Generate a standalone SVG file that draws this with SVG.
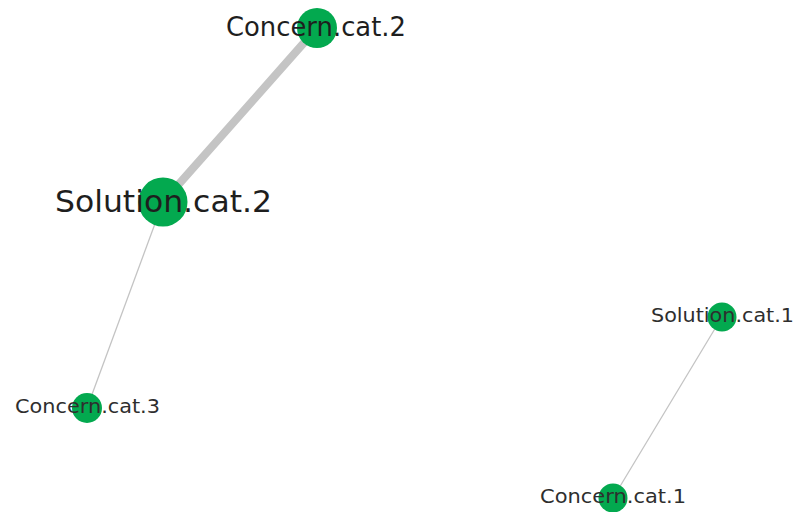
<svg xmlns="http://www.w3.org/2000/svg" width="794" height="512" viewBox="0 0 794 512">
<style>
.node circle{fill:#03a94f}
.edge{stroke:#c4c4c4;stroke-linecap:round;fill:none}
text{font-family:"DejaVu Sans",Verdana,sans-serif;fill:#1e1e1e}
.small{fill:#2e2e2e}
</style>
<rect width="794" height="512" fill="#ffffff"/>
<g id="edges">
<line class="edge" x1="317" y1="28" x2="163" y2="202" stroke-width="8"/>
<line class="edge" x1="163" y1="202" x2="87" y2="408" stroke-width="1.3"/>
<line class="edge" x1="722" y1="317" x2="613" y2="498" stroke-width="1.3"/>
</g>
<g id="n-concern2" class="node">
<circle cx="317" cy="28" r="20"/>
<text x="226" y="36" font-size="27" textLength="180" lengthAdjust="spacingAndGlyphs">Concern.cat.2</text>
</g>
<g id="n-solution2" class="node">
<circle cx="163" cy="202" r="24.5"/>
<text x="55" y="212" font-size="31" textLength="217" lengthAdjust="spacingAndGlyphs">Solution.cat.2</text>
</g>
<g id="n-concern3" class="node">
<circle cx="87" cy="408" r="15"/>
<text class="small" x="15" y="413" font-size="20" textLength="145" lengthAdjust="spacingAndGlyphs">Concern.cat.3</text>
</g>
<g id="n-solution1" class="node">
<circle cx="722" cy="317" r="14.5"/>
<text class="small" x="651" y="322" font-size="20" textLength="143" lengthAdjust="spacingAndGlyphs">Solution.cat.1</text>
</g>
<g id="n-concern1" class="node">
<circle cx="613" cy="498" r="14.5"/>
<text class="small" x="540" y="503" font-size="20" textLength="146" lengthAdjust="spacingAndGlyphs">Concern.cat.1</text>
</g>
</svg>
